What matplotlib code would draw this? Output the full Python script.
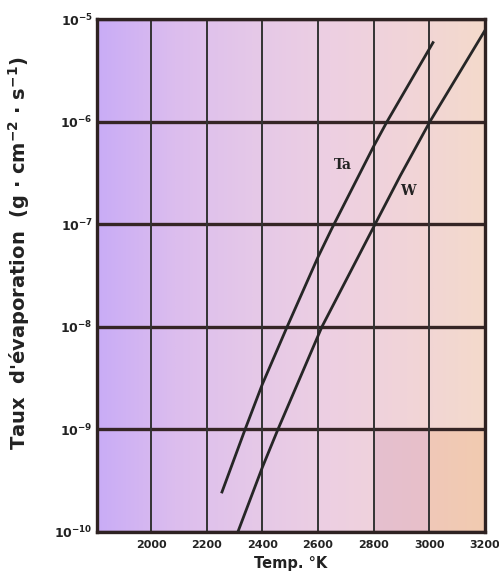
import numpy as np
import matplotlib
matplotlib.use("Agg")
import matplotlib.pyplot as plt
from matplotlib.colors import LinearSegmentedColormap

# Data (temperature in K, log10 of evaporation rate g/cm^2/s)
ta_temp = [2255, 2338, 2400, 2489, 2600, 2650, 2800, 2848, 3013]
ta_log_rate = [-9.61, -9.0, -8.56, -8.0, -7.32, -7.04, -6.24, -6.0, -5.23]
w_temp = [2312, 2400, 2456, 2614, 2805, 2895, 3002, 3200]
w_log_rate = [-10.0, -9.37, -9.0, -8.0, -7.0, -6.53, -6.0, -5.11]

ta_rate = [10 ** v for v in ta_log_rate]
w_rate = [10 ** v for v in w_log_rate]

x_ticks = [2000, 2200, 2400, 2600, 2800, 3000, 3200]
y_ticks = [1e-10, 1e-9, 1e-8, 1e-7, 1e-6, 1e-5]
y_ticklabels = [r"$\mathbf{10^{-10}}$", r"$\mathbf{10^{-9}}$", r"$\mathbf{10^{-8}}$",
                r"$\mathbf{10^{-7}}$", r"$\mathbf{10^{-6}}$", r"$\mathbf{10^{-5}}$"]

fig = plt.figure(figsize=(4.99, 5.78), dpi=100)
ax = fig.add_axes([0.1944, 0.0796, 0.7776, 0.8875])

# background gradient (purple -> pink -> peach)
cmap = LinearSegmentedColormap.from_list(
    "bg", ["#c9acf6", "#dcbdee", "#e5c8e8", "#edcfe2", "#f1d4d8", "#f4dacb"])
ncol = 400
grad = np.linspace(0, 1, ncol)[None, :]
img = cmap(np.repeat(grad, 100, axis=0))
# slightly darker patch in the lower-right region
pA = LinearSegmentedColormap.from_list("pA", ["#e5bfcf", "#e8c0c9"])
pB = LinearSegmentedColormap.from_list("pB", ["#f0c8b8", "#f2cbb0"])
x0, x1 = 1806, 3200
for j in range(ncol):
    t = x0 + (x1 - x0) * j / (ncol - 1)
    if 2800 <= t < 3000:
        img[0:20, j] = pA((t - 2800) / 200)
    elif t >= 3000:
        img[0:20, j] = pB((t - 3000) / 200)
ax.imshow(img, extent=[0, 1, 0, 1], transform=ax.transAxes, aspect="auto",
          origin="lower", zorder=0, interpolation="bilinear")

ax.set_yscale("log")
ax.set_xlim(1806, 3200)
ax.set_ylim(1e-10, 1e-5)

for yv in y_ticks:
    ax.axhline(yv, color="#352525", lw=2.4, zorder=1)
for xv in x_ticks:
    ax.axvline(xv, color="#333333", lw=1.4, zorder=1)

ax.plot(ta_temp, ta_rate, color="#262626", lw=2.0, zorder=3)
ax.plot(w_temp, w_rate, color="#262626", lw=2.0, zorder=3)

ax.text(2690, 10 ** -6.42, "Ta", fontsize=10, fontweight="bold", family="DejaVu Serif",
        ha="center", va="center", color="#222222")
ax.text(2923, 10 ** -6.68, "W", fontsize=10, fontweight="bold", family="DejaVu Serif",
        ha="center", va="center", color="#222222")

ax.set_xticks(x_ticks)
ax.set_xticklabels([str(v) for v in x_ticks], fontsize=8, fontweight="bold")
ax.set_yticks(y_ticks)
ax.set_yticklabels(y_ticklabels, fontsize=9)
ax.yaxis.set_minor_locator(matplotlib.ticker.NullLocator())
ax.tick_params(axis="x", length=0, pad=6, colors="#222222")
ax.tick_params(axis="y", length=0, pad=3, colors="#222222")

for s in ax.spines.values():
    s.set_linewidth(2.4)
    s.set_color("#2e2222")

ax.set_xlabel("Temp. °K", fontsize=10.5, fontweight="bold", labelpad=4, color="#222222")
ax.set_ylabel(r"Taux  d'évaporation  (g · cm$^{\mathbf{-2}}$ · s$^{\mathbf{-1}}$)",
              fontsize=14, fontweight="bold", color="#222222")
ax.yaxis.set_label_coords(-0.168, 0.544)

fig.savefig("out.png", dpi=100)
